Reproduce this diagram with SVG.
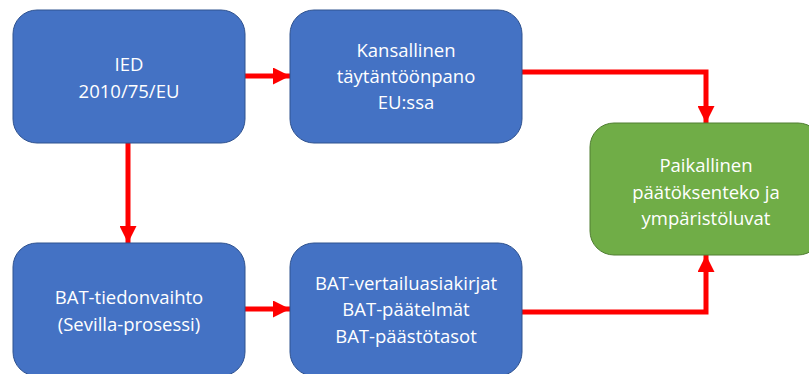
<svg xmlns="http://www.w3.org/2000/svg" width="809" height="374" viewBox="0 0 809 374">
<style>
.b{fill:#4472C4;stroke:#2F528F;stroke-width:1}
.g{fill:#70AD47;stroke:#507E32;stroke-width:1}
text{font-family:"Open Sans","Noto Sans",sans-serif;font-size:18.5px;fill:#fff;text-anchor:middle}
.c{fill:none;stroke:#FF0000;stroke-width:5}
</style>
<defs>
<marker id="a" viewBox="0 0 10 10" refX="10" refY="5" markerWidth="3.4" markerHeight="3.4" orient="auto" markerUnits="strokeWidth">
<path d="M0,0 L10,5 L0,10 Z" fill="#FF0000"/>
</marker>
</defs>
<rect width="809" height="374" fill="#fff"/>
<g id="connectors">
<path class="c" d="M245,76 H290" marker-end="url(#a)"/>
<path class="c" d="M128,143 V243" marker-end="url(#a)"/>
<path class="c" d="M245,309 H290" marker-end="url(#a)"/>
<path class="c" d="M522,72 H706 V123" marker-end="url(#a)"/>
<path class="c" d="M522,312 H706 V255" marker-end="url(#a)"/>
</g>
<g id="ied">
<rect class="b" x="13" y="10" width="232" height="133" rx="24"/>
<text x="129" y="71">IED</text>
<text x="129" y="98">2010/75/EU</text>
</g>
<g id="kansallinen">
<rect class="b" x="290" y="10" width="232" height="133" rx="24"/>
<text x="406" y="57">Kansallinen</text>
<text x="406" y="83">täytäntöönpano</text>
<text x="406" y="109">EU:ssa</text>
</g>
<g id="paikallinen">
<rect class="g" x="590" y="123" width="232" height="132" rx="24"/>
<text x="706" y="172">Paikallinen</text>
<text x="706" y="199">päätöksenteko ja</text>
<text x="706" y="225">ympäristöluvat</text>
</g>
<g id="tiedonvaihto">
<rect class="b" x="13" y="243" width="232" height="133" rx="24"/>
<text x="129" y="304">BAT-tiedonvaihto</text>
<text x="129" y="331">(Sevilla-prosessi)</text>
</g>
<g id="bat">
<rect class="b" x="290" y="243" width="232" height="133" rx="24"/>
<text x="406" y="290">BAT-vertailuasiakirjat</text>
<text x="406" y="316">BAT-päätelmät</text>
<text x="406" y="343">BAT-päästötasot</text>
</g>
</svg>
